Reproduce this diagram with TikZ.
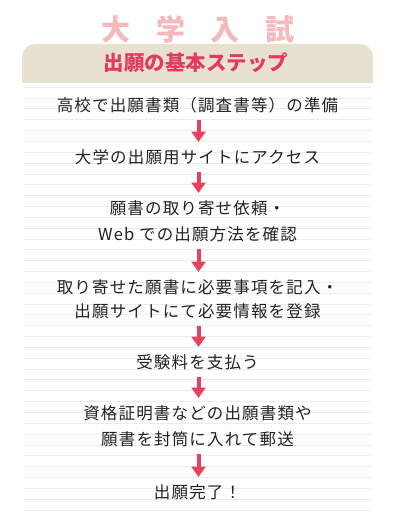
\documentclass[tikz,border=0pt]{standalone}
\usepackage{fontspec}
\usetikzlibrary{arrows.meta}
\newfontfamily\jp{Noto Sans CJK JP}
\newfontfamily\jpbody{Noto Sans CJK JP}[LetterSpace=7]
\definecolor{titlepink}{RGB}{245,185,189}
\definecolor{bannerfill}{RGB}{233,225,207}
\definecolor{bannertext}{RGB}{226,59,94}
\definecolor{arrowred}{RGB}{232,65,95}
\definecolor{rulec}{RGB}{236,236,236}
\definecolor{bodytext}{RGB}{34,34,34}
\tikzset{
  ruleline/.style={draw=rulec, line width=1pt},
  bodyline/.style={font=\jpbody\fontsize{16.5}{20}\selectfont, text=bodytext, inner sep=0pt, text height=14.5pt, text depth=2pt, anchor=center},
  steparrow/.style={draw=arrowred, line width=4pt, -{Triangle[width=14pt,length=10.5pt]}, fill=arrowred},
}
\begin{document}
\begin{tikzpicture}[x=1pt,y=1pt]
\useasboundingbox (0,0) rectangle (400,-525);
% ruled lines
\foreach \i in {0,...,39} {
  \draw[ruleline] (23.5,{-87.3-\i*10.84}) -- (371,{-87.3-\i*10.84});
}
% title
\node[font=\jp\bfseries\fontsize{29}{30}\selectfont, text=titlepink, inner sep=0pt, text height=25.5pt, text depth=3.5pt] (title) at (198,-29.5) {大\hspace{25.5pt}学\hspace{25.5pt}入\hspace{25.5pt}試};
% banner
\fill[bannerfill] (22,-83) -- (22,-57) arc[start angle=180,end angle=90,radius=13] -- (360,-44) arc[start angle=90,end angle=0,radius=13] -- (373,-83) -- cycle;
\node[font=\jp\bfseries\fontsize{20.5}{24}\selectfont, text=bannertext, inner sep=0pt, text height=18pt, text depth=2.5pt] (banner) at (196,-62.5) {出願の基本ステップ};
% steps
\node[bodyline] (s1) at (197.5,-105) {高校で出願書類（調査書等）の準備};
\node[bodyline] (s2) at (197.5,-157) {大学の出願用サイトにアクセス};
\node[bodyline] (s3a) at (197.5,-208) {願書の取り寄せ依頼・};
\node[bodyline] (s3b) at (197.5,-234) {Web での出願方法を確認};
\node[bodyline] (s4a) at (197.5,-287) {取り寄せた願書に必要事項を記入・};
\node[bodyline] (s4b) at (197.5,-311) {出願サイトにて必要情報を登録};
\node[bodyline] (s5) at (197.5,-362) {受験料を支払う};
\node[bodyline] (s6a) at (197.5,-413) {資格証明書などの出願書類や};
\node[bodyline] (s6b) at (197.5,-439) {願書を封筒に入れて郵送};
\node[bodyline] (s7) at (197.5,-492) {出願完了！};
% arrows
\draw[steparrow] ([xshift=1pt,yshift=-15pt]s1.center) -- ([xshift=1pt,yshift=15pt]s2.center);
\draw[steparrow] ([xshift=1pt,yshift=-15pt]s2.center) -- ([xshift=1pt,yshift=15pt]s3a.center);
\draw[steparrow] ([xshift=1pt,yshift=-15pt]s3b.center) -- ([xshift=1pt,yshift=15pt]s4a.center);
\draw[steparrow] ([xshift=1pt,yshift=-15pt]s4b.center) -- ([xshift=1pt,yshift=15pt]s5.center);
\draw[steparrow] ([xshift=1pt,yshift=-15pt]s5.center) -- ([xshift=1pt,yshift=15pt]s6a.center);
\draw[steparrow] ([xshift=1pt,yshift=-15pt]s6b.center) -- ([xshift=1pt,yshift=15pt]s7.center);
\end{tikzpicture}
\end{document}
